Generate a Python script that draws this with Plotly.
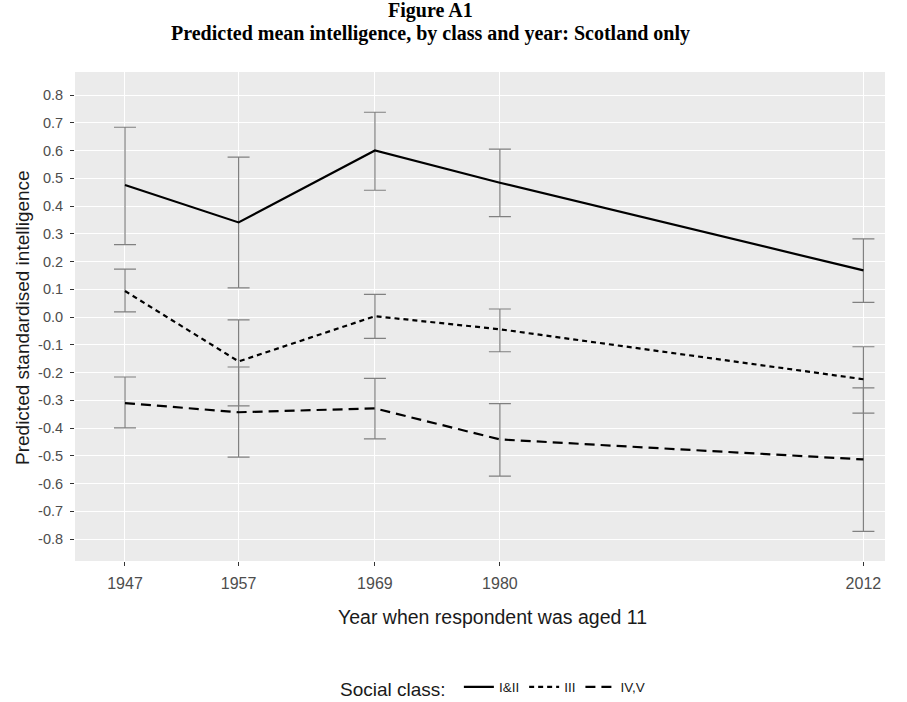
import plotly.graph_objects as go

years = [1947, 1957, 1969, 1980, 2012]
classes = ["I&II", "III", "IV,V"]

mean_I_II = [0.476, 0.341, 0.600, 0.484, 0.168]
lo_I_II = [0.261, 0.105, 0.457, 0.362, 0.053]
hi_I_II = [0.684, 0.576, 0.738, 0.605, 0.282]

mean_III = [0.094, -0.160, 0.003, -0.044, -0.224]
lo_III = [0.019, -0.320, -0.077, -0.125, -0.346]
hi_III = [0.173, -0.010, 0.082, 0.029, -0.107]

mean_IV_V = [-0.310, -0.343, -0.329, -0.441, -0.513]
lo_IV_V = [-0.399, -0.505, -0.439, -0.573, -0.772]
hi_IV_V = [-0.216, -0.180, -0.221, -0.312, -0.255]

y_tick_vals = [0.8, 0.7, 0.6, 0.5, 0.4, 0.3, 0.2, 0.1, 0.0, -0.1, -0.2, -0.3, -0.4, -0.5, -0.6, -0.7, -0.8]
y_tick_text = ["0.8", "0.7", "0.6", "0.5", "0.4", "0.3", "0.2", "0.1", "0.0", "-0.1", "-0.2", "-0.3", "-0.4", "-0.5", "-0.6", "-0.7", "-0.8"]
x_tick_text = ["1947", "1957", "1969", "1980", "2012"]

title_line1 = "Figure A1"
title_line2 = "Predicted mean intelligence, by class and year: Scotland only"
x_title = "Year when respondent was aged 11"
y_title = "Predicted standardised intelligence"
legend_title = "Social class: "

series = [
    (classes[0], mean_I_II, lo_I_II, hi_I_II, "solid"),
    (classes[1], mean_III, lo_III, hi_III, "5px,4px"),
    (classes[2], mean_IV_V, lo_IV_V, hi_IV_V, "10px,6px"),
]

fig = go.Figure()
for name, m, lo, hi, dash in series:
    fig.add_trace(go.Scatter(
        x=years, y=m, mode="lines", name=name,
        line=dict(color="black", width=2.2, dash=dash),
        error_y=dict(type="data", symmetric=False,
                     array=[h - v for h, v in zip(hi, m)],
                     arrayminus=[v - l for l, v in zip(lo, m)],
                     color="#808080", thickness=1.2, width=11),
    ))

# plot area: x 75..885 px, y 72..561 px
def px_x(p):
    return (p - 75) / 810.0

def px_y(p):
    return (561 - p) / 489.0

serif = "Liberation Serif, Times New Roman, serif"
sans = "Liberation Sans, Arial, sans-serif"

annotations = [
    dict(text="<b>" + title_line1 + "</b>", x=px_x(430), y=px_y(11), xref="paper", yref="paper",
         xanchor="center", yanchor="middle", showarrow=False,
         font=dict(family=serif, size=20, color="black")),
    dict(text="<b>" + title_line2 + "</b>", x=px_x(430), y=px_y(33), xref="paper", yref="paper",
         xanchor="center", yanchor="middle", showarrow=False,
         font=dict(family=serif, size=20, color="black")),
    dict(text=x_title, x=px_x(492), y=px_y(617), xref="paper", yref="paper",
         xanchor="center", yanchor="middle", showarrow=False,
         font=dict(family=sans, size=19.5, color="#1a1a1a")),
    dict(text=y_title, x=px_x(22), y=px_y(318), xref="paper", yref="paper",
         xanchor="center", yanchor="middle", showarrow=False, textangle=-90,
         font=dict(family=sans, size=19, color="#1a1a1a")),
]

fig.update_layout(
    width=907, height=702,
    paper_bgcolor="white", plot_bgcolor="#EBEBEB",
    margin=dict(l=75, r=22, t=72, b=141, autoexpand=False),
    font=dict(family=sans, color="#1a1a1a"),
    annotations=annotations,
    xaxis=dict(
        range=[1942.6, 2013.9], tickvals=years, ticktext=x_tick_text,
        showgrid=True, gridcolor="white", gridwidth=1.2, zeroline=False,
        ticks="outside", ticklen=4, tickcolor="#333333", ticklabelstandoff=4,
        tickfont=dict(size=16, color="#4D4D4D"), automargin=False,
    ),
    yaxis=dict(
        range=[-0.879, 0.883], tickvals=y_tick_vals, ticktext=y_tick_text,
        showgrid=True, gridcolor="white", gridwidth=1.2, zeroline=False,
        ticks="outside", ticklen=4, tickcolor="#333333", ticklabelstandoff=4,
        tickfont=dict(size=14.5, color="#4D4D4D"), automargin=False,
    ),
    legend=dict(
        orientation="h", x=px_x(494), xanchor="center", y=px_y(689), yanchor="middle",
        title=dict(text=legend_title, font=dict(size=19, color="#1a1a1a")),
        font=dict(size=13.5, color="#1a1a1a"),
        bgcolor="rgba(0,0,0,0)", itemwidth=30,
    ),
    showlegend=True,
)

fig.write_html("out.html", config={"displayModeBar": False},
               post_script="document.body.style.margin='0';")
